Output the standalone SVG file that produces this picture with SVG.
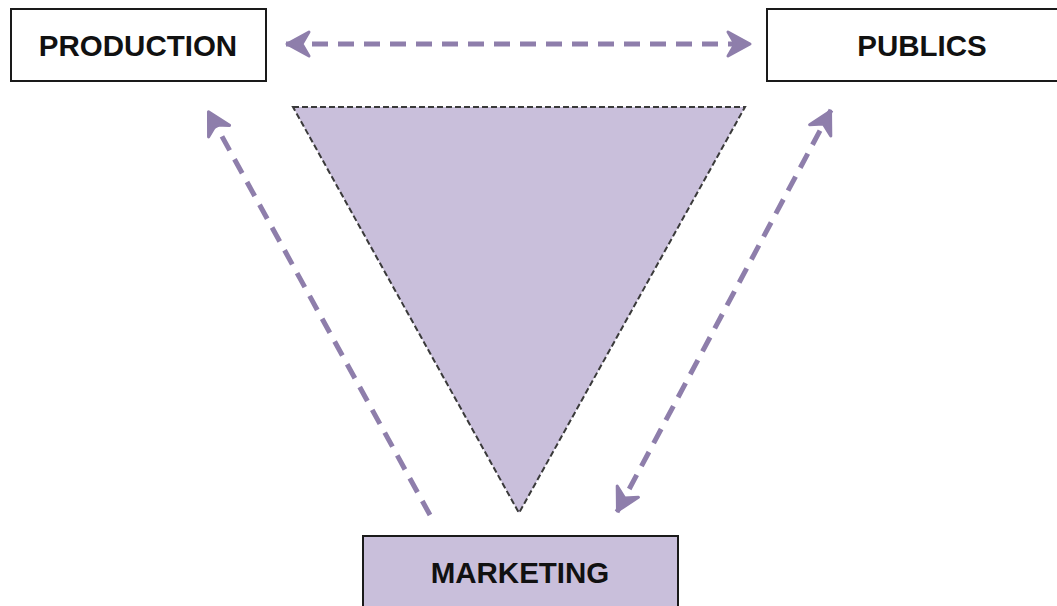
<svg xmlns="http://www.w3.org/2000/svg" width="1057" height="606" viewBox="0 0 1057 606">
<style>
.box{stroke:#1a1a1a;stroke-width:2}
.lbl{font-family:"Liberation Sans",Arial,sans-serif;font-weight:bold;font-size:29.5px;fill:#111;text-anchor:middle}
.conn{fill:none;stroke:#8e7eab;stroke-width:5;stroke-dasharray:16 10}
</style>
<defs>
<marker id="head" markerUnits="userSpaceOnUse" markerWidth="32" markerHeight="32" viewBox="0 0 32 32" refX="29" refY="16" orient="auto-start-reverse">
<polygon points="28,16 6,4 13,16 6,28" fill="#8e7eab" stroke="#8e7eab" stroke-width="3" stroke-linejoin="round"/>
</marker>
</defs>
<rect width="1057" height="606" fill="#ffffff"/>
<g id="triangle">
<polygon points="293,107 745,107 519,513" fill="#c9bfdb" stroke="#3a3a3a" stroke-width="2" stroke-dasharray="6 3"/>
</g>
<g id="connectors">
<line class="conn" x1="286" y1="44" x2="751" y2="44" marker-start="url(#head)" marker-end="url(#head)"/>
<line class="conn" x1="430" y1="515" x2="208" y2="111" marker-end="url(#head)"/>
<line class="conn" x1="617" y1="512" x2="831" y2="110" marker-start="url(#head)" marker-end="url(#head)"/>
</g>
<g id="production">
<rect class="box" x="11" y="9" width="255" height="72" fill="#ffffff"/>
<text class="lbl" x="138" y="56">PRODUCTION</text>
</g>
<g id="publics">
<rect class="box" x="767" y="9" width="300" height="72" fill="#ffffff"/>
<text class="lbl" x="922" y="56">PUBLICS</text>
</g>
<g id="marketing">
<rect class="box" x="363" y="536" width="315" height="90" fill="#c9bfdb"/>
<text class="lbl" x="520" y="583">MARKETING</text>
</g>
</svg>
